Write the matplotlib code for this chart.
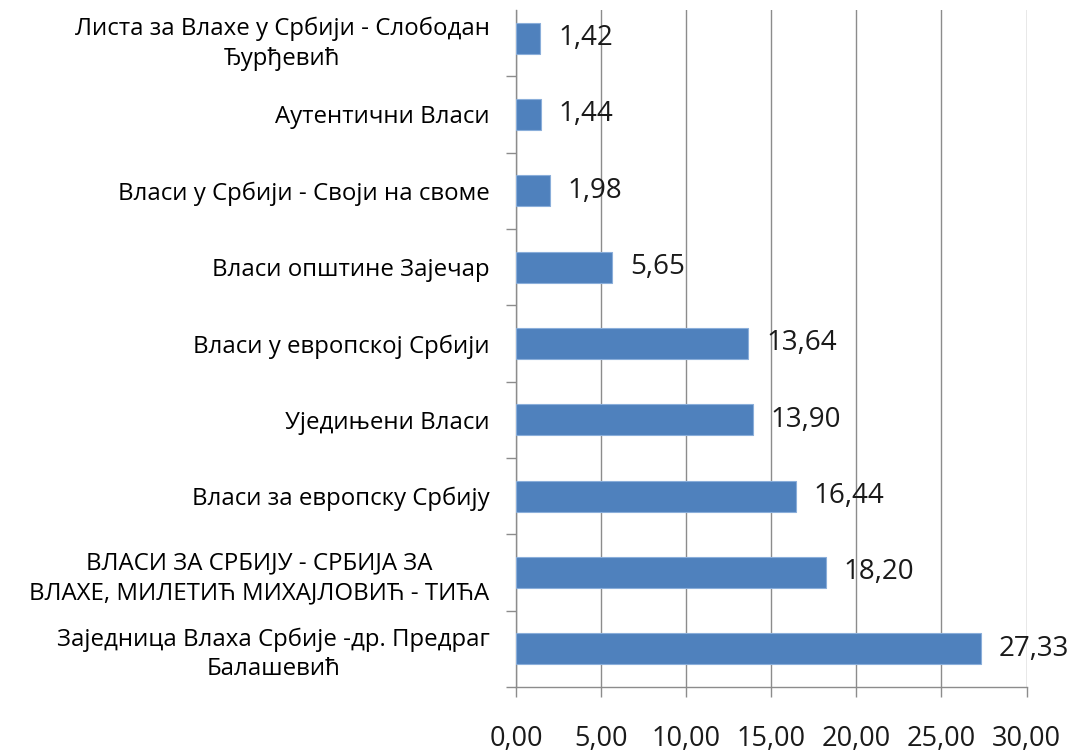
import matplotlib
matplotlib.use("Agg")
import matplotlib.pyplot as plt
from matplotlib.ticker import FuncFormatter, FixedLocator

plt.rcParams['font.family'] = ['Open Sans', 'DejaVu Sans']

categories = [
    "Листа за Влахе у Србији - Слободан\nЂурђевић",
    "Аутентични Власи",
    "Власи у Србији - Своји на своме",
    "Власи општине Зајечар",
    "Власи у европској Србији",
    "Уједињени Власи",
    "Власи за европску Србију",
    "ВЛАСИ ЗА СРБИЈУ - СРБИЈА ЗА\nВЛАХЕ, МИЛЕТИЋ МИХАЈЛОВИЋ - ТИЋА",
    "Заједница Влаха Србије -др. Предраг\nБалашевић",
]
values = [1.42, 1.44, 1.98, 5.65, 13.64, 13.90, 16.44, 18.20, 27.33]
xticks = [0, 5, 10, 15, 20, 25, 30]

fig = plt.figure(figsize=(10.79, 7.53), dpi=100)
ax = fig.add_axes([516 / 1079, 1 - 687 / 753, 510.5 / 1079, 677 / 753])

n = len(categories)
pos = list(range(n))
ax.barh(pos, values, height=0.41, color='#4F81BD', edgecolor='#8AAEDA', linewidth=0.8, zorder=3)

for p, v in zip(pos, values):
    ax.annotate(f"{v:.2f}".replace('.', ','), xy=(v, p), xytext=(13, 0),
                textcoords='offset points', va='center', ha='left',
                fontsize=20, color='#1a1a1a')

ax.xaxis.set_major_locator(FixedLocator(xticks))
ax.xaxis.set_major_formatter(FuncFormatter(lambda x, _: f"{x:.2f}".replace('.', ',')))
ax.grid(axis='x', color='#8C8C8C', linewidth=1.0, zorder=0)
ax.tick_params(axis='x', length=7, width=1, color='#8C8C8C', pad=20, labelsize=19.5, labelcolor='#1a1a1a')

ax.set_yticks([p - 0.5 for p in pos] + [n - 0.5])
ax.set_yticklabels([])
ax.set_yticks(pos, minor=True)
ax.set_yticklabels(categories, minor=True, fontsize=17.3, color='#000000')
ax.tick_params(axis='y', which='major', length=7, width=1, color='#8C8C8C')
ax.tick_params(axis='y', which='minor', length=0, pad=19)
for t in ax.get_yticklabels(minor=True):
    t.set_multialignment('center')
    t.set_linespacing(1.3)

ax.set_ylim(n - 0.5, -0.5 + 10 / 76.3)
ax.set_xlim(0, 30)

for s in ['top', 'right']:
    ax.spines[s].set_visible(False)
for s in ['left', 'bottom']:
    ax.spines[s].set_color('#8C8C8C')
    ax.spines[s].set_linewidth(1.0)

fig.savefig('out.png', dpi=100, facecolor='white')
